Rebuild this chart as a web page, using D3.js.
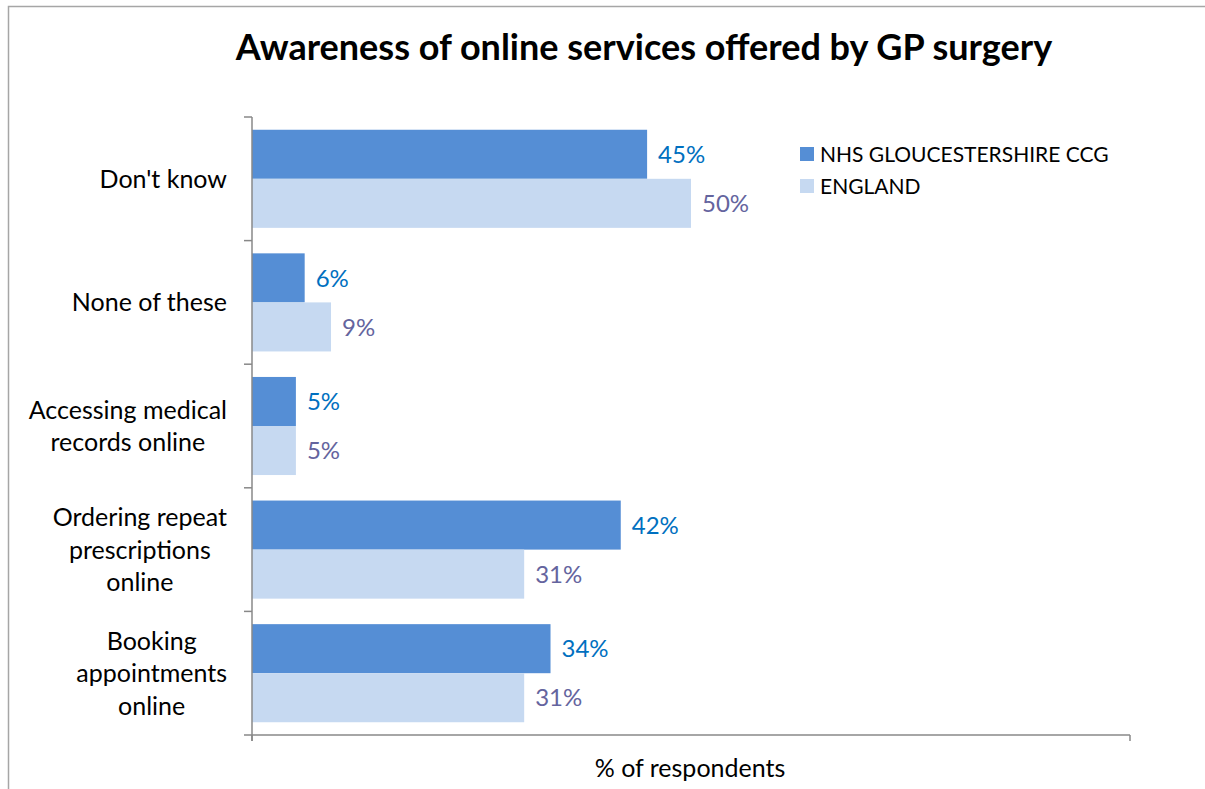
<!DOCTYPE html>
<html>
<head>
<meta charset="utf-8">
<script src="https://cdn.jsdelivr.net/npm/d3@7"></script>
<style>
  html, body { margin: 0; padding: 0; background: #fff; }
  svg { display: block; font-family: Lato, "Open Sans", sans-serif; }
</style>
</head>
<body>
<svg id="chart" width="1205" height="789"></svg>
<script>
// Survey categories, top to bottom
const categories = [
  ["Don't know"],
  ["None of these"],
  ["Accessing medical", "records online"],
  ["Ordering repeat", "prescriptions", "online"],
  ["Booking", "appointments", "online"]
];
const seriesNames = ["NHS GLOUCESTERSHIRE CCG", "ENGLAND"];
const ccgValues = [45, 6, 5, 42, 34];
const englandValues = [50, 9, 5, 31, 31];
const xDomain = [0, 100];

const barColors = ["#558ED5", "#C6D9F1"];
const labelColors = ["#0070C0", "#64649E"];

const svg = d3.select("#chart");

// Outer chart frame
svg.append("rect")
  .attr("x", 8.5).attr("y", 6.5)
  .attr("width", 1210).attr("height", 800)
  .attr("fill", "none").attr("stroke", "#A6A6A6").attr("stroke-width", 1.5);

// Title
svg.append("text")
  .attr("x", 644).attr("y", 60)
  .attr("text-anchor", "middle")
  .attr("font-size", 36).attr("font-weight", 700).attr("fill", "#000")
  .text("Awareness of online services offered by GP surgery");

const plot = { left: 252, right: 1130, top: 117, bottom: 735 };

const x = d3.scaleLinear().domain(xDomain).range([plot.left, plot.right]);
const keys = categories.map((c, i) => i);
const y = d3.scaleBand().domain(keys).range([plot.top, plot.bottom]).padding(0);
const ySub = d3.scaleBand().domain([0, 1]).range([0, y.bandwidth()])
  .paddingInner(0).paddingOuter(0.26);

const rows = keys.map(i => ({ i, vals: [ccgValues[i], englandValues[i]] }));

// Bars
const groups = svg.append("g").selectAll("g").data(rows).join("g")
  .attr("transform", d => `translate(0,${y(d.i)})`);

groups.selectAll("rect").data(d => d.vals.map((v, s) => ({ v, s }))).join("rect")
  .attr("x", x(0))
  .attr("y", d => ySub(d.s))
  .attr("width", d => x(d.v) - x(0))
  .attr("height", ySub.bandwidth())
  .attr("fill", d => barColors[d.s]);

// Value labels
groups.selectAll("text.val").data(d => d.vals.map((v, s) => ({ v, s }))).join("text")
  .attr("class", "val")
  .attr("x", d => x(d.v) + 11)
  .attr("y", d => ySub(d.s) + ySub.bandwidth() / 2)
  .attr("dy", "0.36em")
  .attr("font-size", 24)
  .attr("fill", d => labelColors[d.s])
  .text(d => d.v + "%");

// Axes
const axisColor = "#888";
const yAxis = svg.append("g");
yAxis.append("line")
  .attr("x1", plot.left).attr("x2", plot.left)
  .attr("y1", plot.top).attr("y2", plot.bottom + 6)
  .attr("stroke", axisColor).attr("stroke-width", 1.5);
const tickYs = keys.map(i => y(i)).concat([plot.bottom]);
yAxis.selectAll("line.tick").data(tickYs).join("line")
  .attr("class", "tick")
  .attr("x1", plot.left - 8).attr("x2", plot.left)
  .attr("y1", d => d).attr("y2", d => d)
  .attr("stroke", axisColor).attr("stroke-width", 1.5);

const xAxis = svg.append("g");
xAxis.append("line")
  .attr("x1", plot.left).attr("x2", plot.right)
  .attr("y1", plot.bottom).attr("y2", plot.bottom)
  .attr("stroke", axisColor).attr("stroke-width", 1.5);
xAxis.selectAll("line.tick").data(xDomain).join("line")
  .attr("class", "tick")
  .attr("x1", d => x(d)).attr("x2", d => x(d))
  .attr("y1", plot.bottom).attr("y2", plot.bottom + 6)
  .attr("stroke", axisColor).attr("stroke-width", 1.5);

// Category labels: each block centred on itself, right edge near the axis
const lineH = 32.5;
const labelRight = 227;
const catG = svg.append("g");
rows.forEach(r => {
  const lines = categories[r.i];
  const g = catG.append("g");
  const cy = y(r.i) + y.bandwidth() / 2;
  const texts = lines.map((t, k) => g.append("text")
    .attr("y", cy + (k - (lines.length - 1) / 2) * lineH)
    .attr("dy", "0.36em")
    .attr("font-size", 25)
    .attr("fill", "#000")
    .attr("text-anchor", "middle")
    .text(t));
  const w = d3.max(texts, t => t.node().getComputedTextLength());
  texts.forEach(t => t.attr("x", labelRight - w / 2));
});

// Axis title
svg.append("text")
  .attr("x", 690).attr("y", 768)
  .attr("dy", "0.36em")
  .attr("text-anchor", "middle")
  .attr("font-size", 25)
  .attr("fill", "#000")
  .text("% of respondents");

// Legend
const legend = svg.append("g");
seriesNames.forEach((name, s) => {
  const ly = 154 + s * 32;
  legend.append("rect")
    .attr("x", 800).attr("y", ly - 7)
    .attr("width", 14).attr("height", 14)
    .attr("fill", barColors[s]);
  legend.append("text")
    .attr("x", 820).attr("y", ly)
    .attr("dy", "0.36em")
    .attr("font-size", 21)
    .attr("fill", "#000")
    .text(name);
});
</script>
</body>
</html>
